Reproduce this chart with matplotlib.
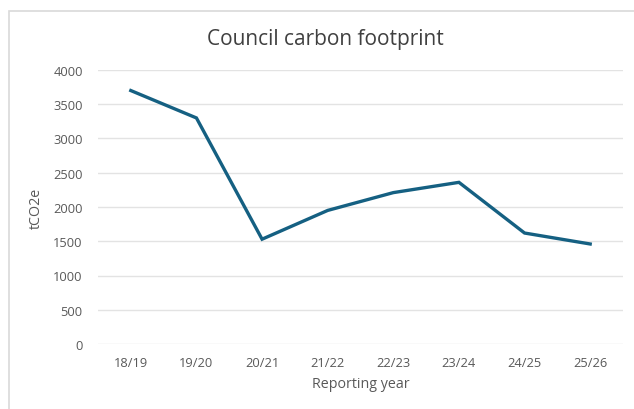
import matplotlib
matplotlib.use("Agg")
import matplotlib.pyplot as plt
from matplotlib.patches import Rectangle

# annual footprint, tonnes CO2e
years = ["18/19", "19/20", "20/21", "21/22", "22/23", "23/24", "24/25", "25/26"]
tco2e = [3700, 3300, 1530, 1950, 2210, 2360, 1620, 1460]
yticks = [0, 500, 1000, 1500, 2000, 2500, 3000, 3500, 4000]

W, H = 634, 410
plt.rcParams["font.family"] = ["Open Sans", "DejaVu Sans"]
fig = plt.figure(figsize=(W / 100, H / 100), dpi=100)

# chart frame (runs off the right and bottom edges)
fig.patches.append(Rectangle((9 / W, -0.1), 1.2, 1 - 12 / H + 0.1,
                             transform=fig.transFigure, fill=False,
                             ec="#d9d9d9", lw=1.2))

ax = fig.add_axes([98 / W, 1 - 345 / H, (623 - 98) / W, (345 - 71) / H])
x = range(len(years))
ax.plot(x, tco2e, color="#156082", lw=2.4, solid_joinstyle="miter")

ax.set_xlim(-0.5, len(years) - 0.5)
ax.set_ylim(0, 4000)
ax.set_yticks(yticks)
ax.set_xticks(list(x))
ax.set_xticklabels(years)
ax.grid(axis="y", color="#e3e3e3", lw=1.0)
ax.set_axisbelow(True)
for sp in ax.spines.values():
    sp.set_visible(False)
ax.tick_params(length=0, labelsize=9.3, labelcolor="#595959")
ax.tick_params(axis="y", pad=11)
ax.tick_params(axis="x", pad=9)

ax.set_xlabel("Reporting year", fontsize=10.3, color="#595959", labelpad=5)
ax.set_ylabel("tCO2e", fontsize=10.3, color="#595959", labelpad=7)
fig.text(325 / W, 1 - 40 / H, "Council carbon footprint", ha="center",
         va="center", fontsize=15, color="#404040")

fig.savefig("out.png", dpi=100)
